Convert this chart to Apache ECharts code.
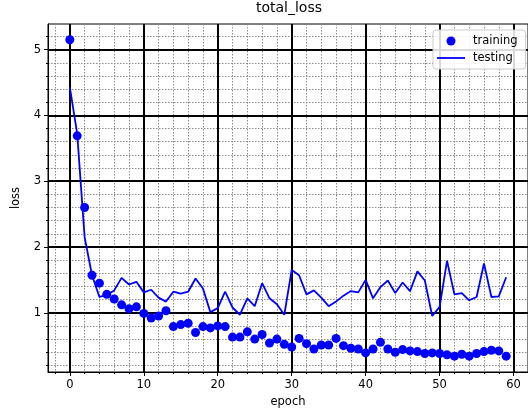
<!DOCTYPE html>
<html>
<head>
<meta charset="utf-8">
<script src="https://cdn.jsdelivr.net/npm/echarts@6/dist/echarts.min.js"></script>
<style>
html,body{margin:0;padding:0;background:#fff;}
#chart{width:528px;height:414px;}
</style>
</head>
<body>
<div id="chart"></div>
<script>
// ---- data ----
const epochs = [0,1,2,3,4,5,6,7,8,9,10,11,12,13,14,15,16,17,18,19,20,21,22,23,24,25,26,27,28,29,
  30,31,32,33,34,35,36,37,38,39,40,41,42,43,44,45,46,47,48,49,50,51,52,53,54,55,56,57,58,59];
const training = [5.15,3.69,2.60,1.57,1.45,1.28,1.21,1.12,1.06,1.09,0.99,0.92,0.95,1.03,0.79,0.82,0.84,0.70,0.79,0.77,
  0.80,0.79,0.63,0.63,0.71,0.60,0.67,0.54,0.60,0.52,0.48,0.61,0.53,0.45,0.51,0.51,0.61,0.50,0.46,0.45,
  0.39,0.45,0.55,0.45,0.40,0.44,0.42,0.41,0.38,0.39,0.38,0.36,0.34,0.37,0.34,0.38,0.41,0.43,0.42,0.34];
const testing = [4.43,3.72,2.15,1.57,1.24,1.27,1.34,1.53,1.43,1.47,1.31,1.35,1.23,1.17,1.32,1.29,1.32,1.52,1.37,1.01,
  1.07,1.32,1.08,0.97,1.22,1.10,1.45,1.22,1.13,0.97,1.65,1.57,1.28,1.34,1.23,1.10,1.17,1.26,1.33,1.31,
  1.50,1.22,1.39,1.49,1.30,1.46,1.33,1.63,1.49,0.95,1.09,1.79,1.28,1.30,1.19,1.24,1.75,1.24,1.25,1.54];
const xMajorTicks = [0,10,20,30,40,50,60];
const yMajorTicks = [1,2,3,4,5];
const xMinorTicks = [-2,2,4,6,8,12,14,16,18,22,24,26,28,32,34,36,38,42,44,46,48,52,54,56,58];
const yMinorTicks = [0.2,0.4,0.6,0.8,1.2,1.4,1.6,1.8,2.2,2.4,2.6,2.8,3.2,3.4,3.6,3.8,4.2,4.4,4.6,4.8,5.2];
const xRange = [-2.95, 61.95];
const yRange = [0.0995, 5.39];

const FONT = 'DejaVu Sans';
const chart = echarts.init(document.getElementById('chart'), null, {renderer:'canvas'});

function majorAxis(kind, ticks, range, name, extra) {
  return Object.assign({
    type:'value', min:range[0], max:range[1],
    position: kind==='x' ? 'bottom' : 'left',
    name:name, nameLocation:'middle',
    nameTextStyle:{fontFamily:FONT, fontSize:11.5, color:'#000'},
    axisLine:{show:true, onZero:false, lineStyle:{color:'#000', width:1}},
    axisTick:{show:true, length:4, customValues:ticks, lineStyle:{color:'#000', width:1}},
    axisLabel:{show:true, customValues:ticks, fontFamily:FONT, fontSize:11.5, color:'#000', margin:7},
    splitLine:{show:true, lineStyle:{color:'#000', width:2}},
    z: 2
  }, extra||{});
}
function minorAxis(kind, ticks, range) {
  return {
    type:'value', min:range[0], max:range[1],
    position: kind==='x' ? 'bottom' : 'left',
    axisLine:{show:false, onZero:false},
    axisTick:{show:true, length:2, customValues:ticks, lineStyle:{color:'#000', width:1}},
    axisLabel:{show:false},
    splitLine:{show:true, lineStyle:{color:'#8a8a8a', width:1, type:[1.5,1.5]}},
    z: 1
  };
}

chart.setOption({
  animation:false,
  backgroundColor:'#fff',
  title:{text:'total_loss', left:289, top:1, textAlign:'center', padding:0,
    textStyle:{fontFamily:FONT, fontSize:14, fontWeight:'normal', color:'#000'}},
  grid:{left:48, top:24, width:485, height:348, show:true, borderColor:'#000', borderWidth:1, backgroundColor:'transparent'},
  xAxis:[
    majorAxis('x', xMajorTicks, xRange, 'epoch', {nameGap:24}),
    minorAxis('x', xMinorTicks, xRange)
  ],
  yAxis:[
    majorAxis('y', yMajorTicks, yRange, 'loss', {nameGap:26}),
    minorAxis('y', yMinorTicks, yRange)
  ],
  legend:{
    orient:'vertical', left:433, top:30,
    data:[
      {name:'training', icon:'circle'},
      {name:'testing', icon:'path://M0,0 L28,0 L28,1.8 L0,1.8 Z'}
    ],
    itemWidth:28, itemHeight:9, itemGap:5,
    padding:[5,8,5,4],
    backgroundColor:'rgba(255,255,255,0.85)', borderColor:'#cccccc', borderWidth:1, borderRadius:3,
    textStyle:{fontFamily:FONT, fontSize:11.5, color:'#000', padding:[0,0,0,3]}
  },
  series:[
    {name:'training', type:'scatter', xAxisIndex:0, yAxisIndex:0, symbol:'circle', symbolSize:9,
      itemStyle:{color:'#0000ff', opacity:1}, z:3,
      data: epochs.map((e,i)=>[e, training[i]])},
    {name:'testing', type:'line', xAxisIndex:0, yAxisIndex:0, symbol:'none', showSymbol:false,
      lineStyle:{color:'#0000ff', width:1.8}, itemStyle:{color:'#0000ff'}, z:3,
      data: epochs.map((e,i)=>[e, testing[i]])}
  ]
});
</script>
</body>
</html>
